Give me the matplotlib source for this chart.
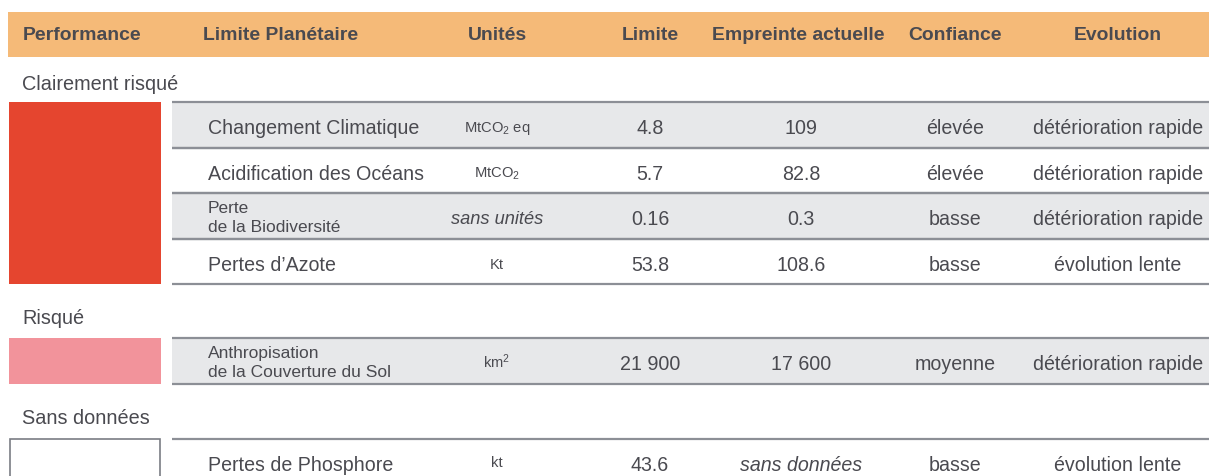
import matplotlib
matplotlib.use("Agg")
import matplotlib.pyplot as plt
from matplotlib.patches import Rectangle
from matplotlib import font_manager

# ---- data ----
headers = ["Performance", "Limite Planétaire", "Unités", "Limite",
           "Empreinte actuelle", "Confiance", "Evolution"]
groups = ["Clairement risqué", "Risqué", "Sans données"]
group_colors = ["#E5452F", "#F2939B", "#FFFFFF"]
group_sizes = [4, 1, 1]
names = ["Changement Climatique", "Acidification des Océans",
         "Perte\nde la Biodiversité", "Pertes d\u2019Azote",
         "Anthropisation\nde la Couverture du Sol", "Pertes de Phosphore"]
units = ["MtCO$_2$ eq", "MtCO$_2$", "sans unités", "Kt", "km$^2$", "kt"]
limits = ["4.8", "5.7", "0.16", "53.8", "21 900", "43.6"]
footprints = ["109", "82.8", "0.3", "108.6", "17 600", "sans données"]
confidence = ["élevée", "élevée", "basse", "basse", "moyenne", "basse"]
evolution = ["détérioration rapide", "détérioration rapide", "détérioration rapide",
             "évolution lente", "détérioration rapide", "évolution lente"]
row_shaded = [True, False, True, False, True, False]

# ---- fonts ----
avail = {f.name for f in font_manager.fontManager.ttflist}
if "Liberation Sans Narrow" in avail:
    fam, k = "Liberation Sans Narrow", 1.0
else:
    fam, k = "Liberation Sans", 0.82
plt.rcParams['font.family'] = [fam, "DejaVu Sans"]
plt.rcParams['mathtext.default'] = 'regular'
plt.rcParams['mathtext.fontset'] = 'custom'
plt.rcParams['mathtext.rm'] = fam
plt.rcParams['mathtext.it'] = fam + ":italic"

def fs(s):
    return s * k

W, H = 1209, 477
fig = plt.figure(figsize=(W / 100, H / 100), dpi=100)
ax = fig.add_axes([0, 0, 1, 1])
ax.set_xlim(0, W)
ax.set_ylim(H, 0)
ax.axis("off")

txt = "#4A4A50"
line_c = "#8C8F96"
shade = "#E7E8EA"
body = 17.3

# header band
ax.add_patch(Rectangle((8, 13), W - 8, 45, color="#F5BA78", lw=0))
hx = [23, 203, 497, 650, 798, 955, 1118]
ha = ["left", "left", "center", "center", "center", "center", "center"]
for x, h, a in zip(hx, headers, ha):
    ax.text(x, 35, h, ha=a, va="center", fontsize=fs(17), fontweight="bold", color=txt)

col_unit, col_lim, col_fp, col_conf, col_evo = 497, 650, 801, 955, 1118
x_left_tab = 172

# groups
group_label_y = [84, 319, 419]
group_top = [103, 339, 440]
row_h = 45.5
ri = 0
for g, gname in enumerate(groups):
    ax.text(22, group_label_y[g], gname, ha="left", va="center", fontsize=fs(17.4), color=txt)
    top = group_top[g]
    n = group_sizes[g]
    bottom = min(top + n * row_h, H + 5)
    if group_colors[g] == "#FFFFFF":
        ax.add_patch(Rectangle((10, top), 150, bottom - top + 10, facecolor="white",
                               edgecolor="#7A7D84", lw=1.2))
    else:
        ax.add_patch(Rectangle((9, top), 152, n * row_h, color=group_colors[g], lw=0))
    for j in range(n):
        y0 = top + j * row_h
        yc = y0 + row_h / 2 + 3
        if row_shaded[ri]:
            ax.add_patch(Rectangle((x_left_tab, y0), W - x_left_tab, row_h, color=shade, lw=0))
        ax.plot([x_left_tab, W], [y0, y0], color=line_c, lw=1.6, solid_capstyle="butt")
        if y0 + row_h < H:
            ax.plot([x_left_tab, W], [y0 + row_h, y0 + row_h], color=line_c, lw=1.6,
                    solid_capstyle="butt")
        nm = names[ri]
        if "\n" in nm:
            ax.text(208, yc - 1.5, nm, ha="left", va="center", fontsize=fs(15.3), color=txt,
                    linespacing=1.3)
        else:
            ax.text(208, yc, nm, ha="left", va="center", fontsize=fs(body), color=txt)
        u = units[ri]
        if u == "sans unités":
            ax.text(col_unit, yc, u, ha="center", va="center", fontsize=fs(16),
                    style="italic", color=txt)
        else:
            dy = -3 if ("^" in u or u == "kt") else 0
            ax.text(col_unit, yc + dy, u, ha="center", va="center", fontsize=fs(13), color=txt)
        ax.text(col_lim, yc, limits[ri], ha="center", va="center", fontsize=fs(body), color=txt)
        fp = footprints[ri]
        ax.text(col_fp, yc, fp, ha="center", va="center", fontsize=fs(body), color=txt,
                style="italic" if fp == "sans données" else "normal")
        ax.text(col_conf, yc, confidence[ri], ha="center", va="center", fontsize=fs(body), color=txt)
        ax.text(col_evo, yc, evolution[ri], ha="center", va="center", fontsize=fs(body), color=txt)
        ri += 1

fig.savefig("out.png", dpi=100, facecolor="white")
